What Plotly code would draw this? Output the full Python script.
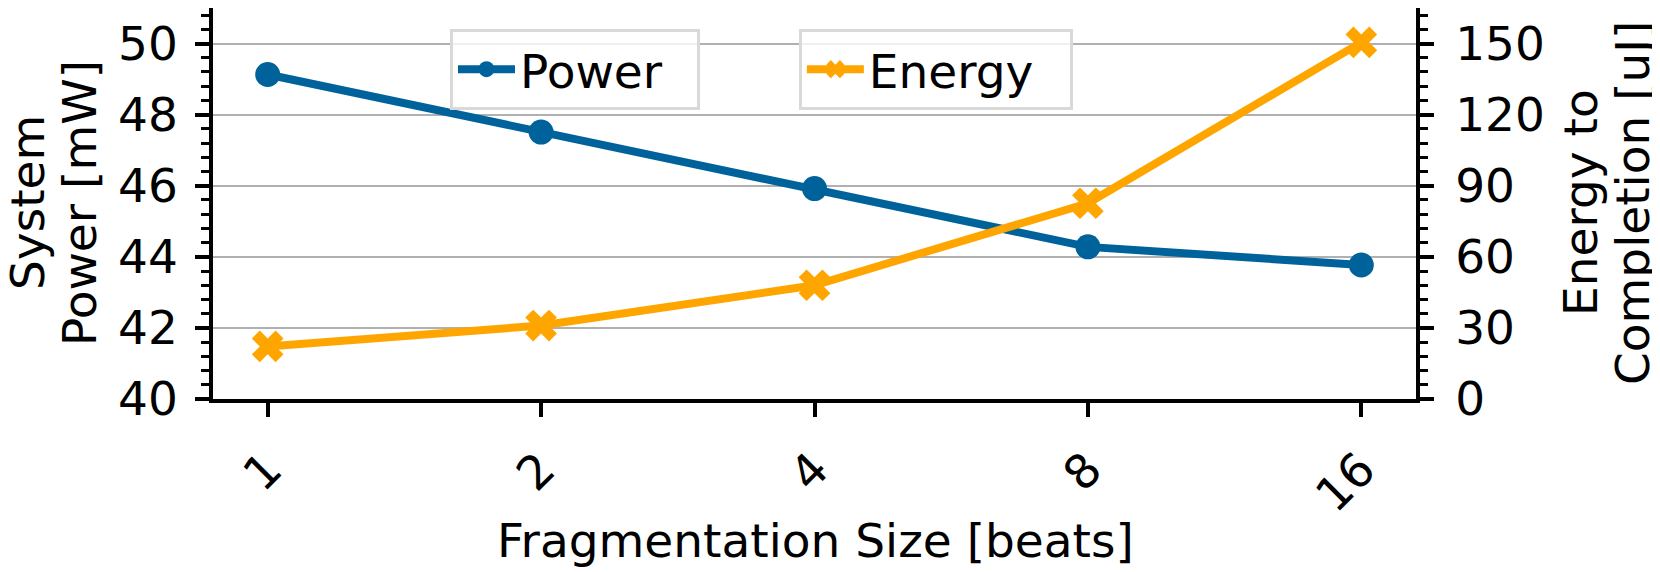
import plotly.graph_objects as go

# ---- data ----
frag_sizes = ["1", "2", "4", "8", "16"]
power_mw = [49.13, 47.51, 45.92, 44.28, 43.77]
energy_uj = [22.2, 31.0, 48.0, 82.6, 150.5]

power_ticks = [40, 42, 44, 46, 48, 50]
energy_ticks = [0, 30, 60, 90, 120, 150]

BLUE = "#00629B"
ORANGE = "#FFA500"
FONT = "DejaVu Sans"
FS = 47

# the page body adds an 8px offset; size the figure to fill the rest
W, H = 1652, 564
PL, PR, PT, PB = 205, 244, 0, 173   # plot area 1203 x 391

fig = go.Figure()
fig.add_trace(go.Scatter(
    x=frag_sizes, y=power_mw, name="Power", mode="lines+markers",
    line=dict(color=BLUE, width=8),
    marker=dict(symbol="circle", size=25, color=BLUE),
    legend="legend", yaxis="y"))
fig.add_trace(go.Scatter(
    x=frag_sizes, y=energy_uj, name="Energy", mode="lines+markers",
    line=dict(color=ORANGE, width=8),
    marker=dict(symbol="x", size=28, color=ORANGE),
    legend="legend2", yaxis="y2"))

axis_common = dict(
    showline=True, linecolor="black", linewidth=3.5,
    ticks="outside", ticklen=14, tickwidth=3.5, tickcolor="black",
    tickfont=dict(family=FONT, size=FS, color="black"),
    zeroline=False, automargin=False,
)

legend_common = dict(
    xanchor="left", yanchor="top", orientation="h",
    bgcolor="rgba(255,255,255,0.8)", bordercolor="#d9d9d9", borderwidth=3,
    font=dict(family=FONT, size=FS, color="black"),
    itemwidth=57, entrywidthmode="pixels",
)

fig.update_layout(
    width=W, height=H,
    margin=dict(l=PL, r=PR, t=PT, b=PB, autoexpand=False),
    paper_bgcolor="white", plot_bgcolor="white",
    font=dict(family=FONT, size=FS, color="black"),
    xaxis=dict(
        type="category", range=[-0.2, 4.2], mirror=True,
        tickangle=-45, showgrid=False, ticklabelstandoff=6,
        **axis_common),
    yaxis=dict(
        range=[40, 51], tickmode="array", tickvals=power_ticks, mirror=True,
        showgrid=True, gridcolor="#b0b0b0", gridwidth=2,
        ticklabelstandoff=8,
        minor=dict(tick0=40, dtick=0.4, ticks="outside", ticklen=8,
                   tickwidth=3, tickcolor="black", showgrid=False),
        **axis_common),
    yaxis2=dict(
        overlaying="y", side="right", anchor="x",
        range=[0, 165], tickmode="array", tickvals=energy_ticks,
        showgrid=False, ticklabelstandoff=12,
        minor=dict(tick0=0, dtick=6, ticks="outside", ticklen=8,
                   tickwidth=3, tickcolor="black", showgrid=False),
        **axis_common),
    legend=dict(x=0.197, y=0.946, entrywidth=172, **legend_common),
    legend2=dict(x=0.487, y=0.946, entrywidth=196, **legend_common),
    showlegend=True,
)

PW = W - PL - PR
PH = H - PT - PB


def px_x(px):  # absolute page px (incl. 8px body offset) -> paper x
    return (px - 8 - PL) / PW


def px_y(py):
    return (H + 8 - PB - py) / PH


def label(text, x, y, angle=0):
    fig.add_annotation(text=text, textangle=angle,
                       xref="paper", yref="paper", x=px_x(x), y=px_y(y),
                       xanchor="center", yanchor="middle", showarrow=False,
                       font=dict(family=FONT, size=FS, color="black"))


label("System", 27, 203, -90)
label("Power [mW]", 79, 203, -90)
label("Energy to", 1580, 203, -90)
label("Completion [uJ]", 1632, 203, -90)
label("Fragmentation Size [beats]", 815, 540)

fig.write_html("out.html")
